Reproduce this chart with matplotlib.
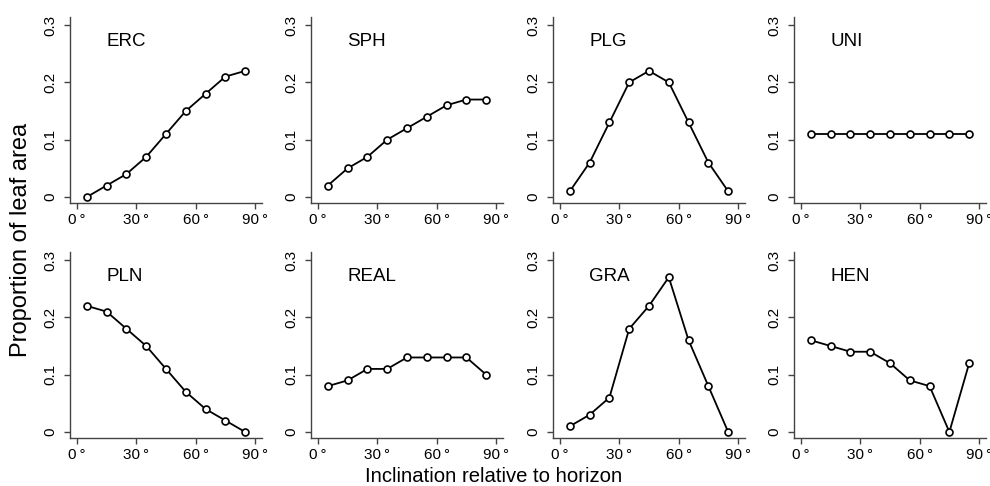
import numpy as np
import matplotlib as mpl
mpl.use('Agg')
import matplotlib.pyplot as plt

plt.rcParams['font.family'] = ['Liberation Sans', 'DejaVu Sans']

# inclination class midpoints (degrees)
ANGLES = [5, 15, 25, 35, 45, 55, 65, 75, 85]

NAMES = ["ERC", "SPH", "PLG", "UNI", "PLN", "REAL", "GRA", "HEN"]

ERC = [0.00, 0.02, 0.04, 0.07, 0.11, 0.15, 0.18, 0.21, 0.22]
SPH = [0.02, 0.05, 0.07, 0.10, 0.12, 0.14, 0.16, 0.17, 0.17]
PLG = [0.01, 0.06, 0.13, 0.20, 0.22, 0.20, 0.13, 0.06, 0.01]
UNI = [0.11, 0.11, 0.11, 0.11, 0.11, 0.11, 0.11, 0.11, 0.11]
PLN = [0.22, 0.21, 0.18, 0.15, 0.11, 0.07, 0.04, 0.02, 0.00]
REAL = [0.08, 0.09, 0.11, 0.11, 0.13, 0.13, 0.13, 0.13, 0.10]
GRA = [0.01, 0.03, 0.06, 0.18, 0.22, 0.27, 0.16, 0.08, 0.00]
HEN = [0.16, 0.15, 0.14, 0.14, 0.12, 0.09, 0.08, 0.00, 0.12]

SERIES = [ERC, SPH, PLG, UNI, PLN, REAL, GRA, HEN]

XTICKS = [0, 30, 60, 90]
YTICKS = [0, 0.1, 0.2, 0.3]
YTICKLABELS = ["0", "0.1", "0.2", "0.3"]

W, H = 990, 486
fig = plt.figure(figsize=(W / 100, H / 100), dpi=100)

col_x = [70, 311, 553, 794]
row_y = [17, 252]
ax_w, ax_h = 192, 186

SPINE = '#444444'

for i, (name, vals) in enumerate(zip(NAMES, SERIES)):
    r, c = divmod(i, 4)
    left = col_x[c] / W
    bottom = 1 - (row_y[r] + ax_h) / H
    ax = fig.add_axes([left, bottom, ax_w / W, ax_h / H])

    ax.plot(ANGLES, vals, '-o', color='black', lw=1.3, ms=5,
            mfc='white', mec='black', mew=1.2, clip_on=False, zorder=3)

    ax.set_xlim(-3.5, 93.5)
    ax.set_ylim(-0.0105, 0.314)
    ax.set_xticks(XTICKS)
    ax.set_xticklabels(["%d\u2009°" % t for t in XTICKS])
    ax.set_yticks(YTICKS)
    ax.set_yticklabels(YTICKLABELS, rotation=90, va='center')

    for s in ['top', 'right']:
        ax.spines[s].set_visible(False)
    for s in ['left', 'bottom']:
        ax.spines[s].set_color(SPINE)
        ax.spines[s].set_linewidth(1.0)
    ax.tick_params(direction='out', length=4, width=1.0, color=SPINE,
                   labelsize=11)
    ax.tick_params(axis='x', pad=3)
    ax.tick_params(axis='y', pad=5)
    ax.patch.set_alpha(0)

    ax.text(14.7, 0.271, name, fontsize=13.5, va='center', ha='left')

fig.text(21 / W, 1 - 240 / H, "Proportion of leaf area", rotation=90,
         ha='center', va='center', fontsize=17)
fig.text(494 / W, 1 - 482 / H, "Inclination relative to horizon",
         ha='center', va='baseline', fontsize=14.6)

plt.savefig('out.png', dpi=100)
plt.close(fig)
